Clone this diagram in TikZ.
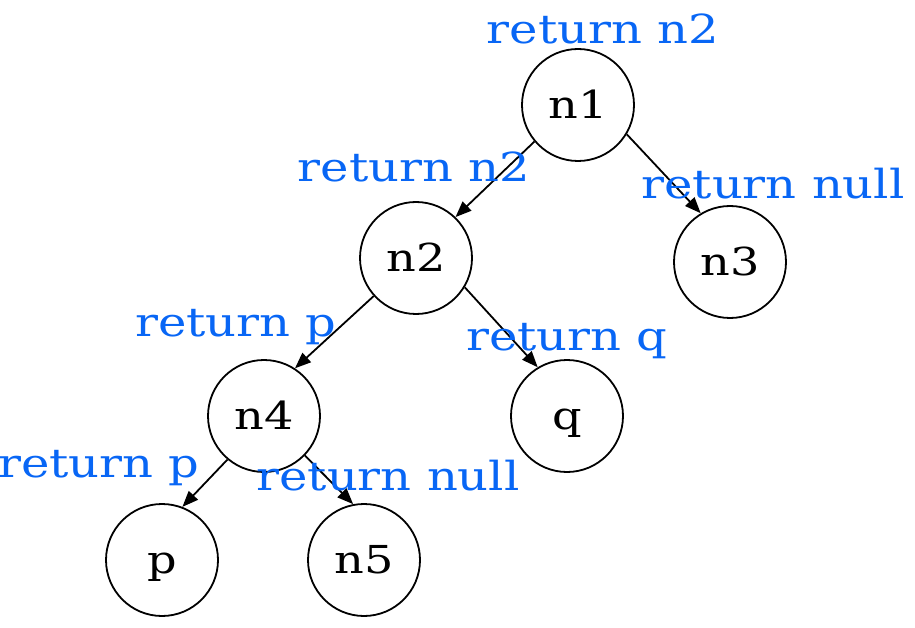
\documentclass[tikz,border=0pt]{standalone}
\usepackage{fontspec}
\setmainfont{DejaVu Serif}[FakeStretch=1.2]
\usetikzlibrary{arrows.meta}
\definecolor{lblblue}{RGB}{8,102,245}
\begin{document}
\begin{tikzpicture}[x=1pt,y=-1pt,
  tnode/.style={draw,circle,line width=1.8pt,minimum size=112pt,inner sep=0pt,
    font=\fontsize{38.5}{40}\selectfont,text height=27pt,text depth=0pt},
  rlabel/.style={anchor=base,text=lblblue,inner sep=0pt,font=\fontsize{40}{42}\selectfont},
  edge/.style={line width=1.8pt,-{Triangle[length=16pt,width=12.5pt]}}]
\useasboundingbox (0,0) rectangle (915,628);
\node[tnode] (n1) at (578,105) {n1};
\node[tnode] (n2) at (416,258) {n2};
\node[tnode] (n3) at (730,262) {n3};
\node[tnode] (n4) at (264,416) {n4};
\node[tnode] (q)  at (567,416) {q};
\node[tnode] (p)  at (162,560) {p};
\node[tnode] (n5) at (364,560) {n5};
\draw[edge] (n1.220) -- (n2.46);
\draw[edge] (n1.329) -- (n3.121);
\draw[edge] (n2.222) -- (n4.57);
\draw[edge] (n2.329) -- (q.121);
\draw[edge] (n4.230) -- (p.69);
\draw[edge] (n4.316) -- (n5.101);
\node[rlabel] (l1) at (603,44) {return n2};
\node[rlabel] (l2) at (414,182) {return n2};
\node[rlabel] (l3) at (773,199) {return null};
\node[rlabel] (l4) at (236,336) {return p};
\node[rlabel] (l5) at (567,350) {return q};
\node[rlabel] (l6) at (99,477) {return p};
\node[rlabel] (l7) at (388,490) {return null};
\end{tikzpicture}
\end{document}
